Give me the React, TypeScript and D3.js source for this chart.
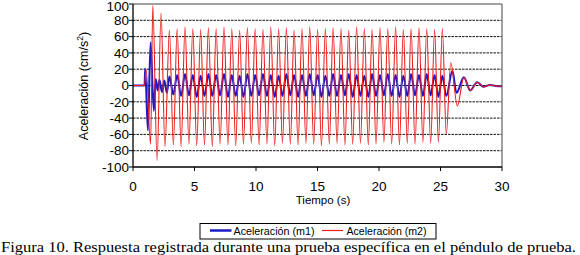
import React from "react";
import * as d3 from "d3";

// ---- data ----
const xTicks = [0, 5, 10, 15, 20, 25, 30];
const yTicks = [-100, -80, -60, -40, -20, 0, 20, 40, 60, 80, 100];
const gridValues = [-80, -60, -40, -20, 0, 20, 40, 60, 80];

// Aceleración (m2) – extrema of the red trace
const m2Times = [
  0, 0.94, 1.07, 1.43, 1.61, 1.96, 2.28, 2.6,
  2.96, 3.28, 3.59, 3.91, 4.23, 4.55, 4.86, 5.18, 5.5, 5.81, 6.13, 6.45,
  6.76, 7.08, 7.4, 7.72, 8.03, 8.35, 8.67, 8.98, 9.3, 9.62, 9.93, 10.25,
  10.57, 10.89, 11.2, 11.52, 11.84, 12.15, 12.47, 12.79, 13.1, 13.42,
  13.74, 14.06, 14.37, 14.69, 15.01, 15.32, 15.64, 15.96, 16.27, 16.59,
  16.91, 17.23, 17.54, 17.86, 18.18, 18.49, 18.81, 19.13, 19.44, 19.76,
  20.08, 20.4, 20.71, 21.03, 21.35, 21.66, 21.98, 22.3, 22.61, 22.93,
  23.25, 23.57, 23.88, 24.2, 24.52, 24.83, 25.15, 25.47,
  25.83, 26.37, 26.9, 27.42, 27.98, 28.5, 29.0, 29.5, 30,
];
const m2Values = [
  0, 0, 20, -72, 98, -92, 89, -75,
  68, -73, 70, -75, 72, -72, 70, -74, 69, -73, 71, -75,
  70, -72, 72, -73, 70, -74, 68, -72, 71, -71, 70, -73,
  69, -72, 72, -74, 70, -71, 71, -72, 68, -73,
  70, -71, 72, -72, 69, -74, 70, -72, 71, -71,
  70, -73, 68, -72, 72, -71, 70, -73, 69, -72,
  71, -70, 70, -72, 72, -73, 69, -71, 70, -72,
  71, -70, 70, -71, 69, -70, 70, -60,
  28, -25, 10, -6, 4, -1.5, 0.5, -0.5, -1,
];

// Aceleración (m1) – extrema of the blue trace
const m1Times = [
  0, 0.94, 0.99, 1.21, 1.43, 1.69, 1.85, 2.0, 2.15, 2.35, 2.55, 2.75,
  2.96, 3.28, 3.59, 3.91, 4.23, 4.55, 4.86, 5.18, 5.5, 5.81, 6.13, 6.45,
  6.76, 7.08, 7.4, 7.72, 8.03, 8.35, 8.67, 8.98, 9.3, 9.62, 9.93, 10.25,
  10.57, 10.89, 11.2, 11.52, 11.84, 12.15, 12.47, 12.79, 13.1, 13.42,
  13.74, 14.06, 14.37, 14.69, 15.01, 15.32, 15.64, 15.96, 16.27, 16.59,
  16.91, 17.23, 17.54, 17.86, 18.18, 18.49, 18.81, 19.13, 19.44, 19.76,
  20.08, 20.4, 20.71, 21.03, 21.35, 21.66, 21.98, 22.3, 22.61, 22.93,
  23.25, 23.57, 23.88, 24.2, 24.52, 24.83, 25.15, 25.47,
  25.97, 26.3, 26.9, 27.42, 27.98, 28.5, 29.0, 29.5, 30,
];
const m1Values = [
  0, 0, 21, -55, 53, -31, 8, -6, 7, -8, 6, -9,
  11, -11, 13, -13, 14, -12, 13, -14, 12, -13, 14, -13,
  13, -12, 14, -14, 13, -13, 12, -14, 14, -13, 13, -12,
  14, -13, 13, -14, 12, -13, 14, -12, 13, -14,
  13, -13, 14, -12, 13, -14, 12, -13, 14, -13,
  13, -12, 14, -14, 13, -13, 12, -14, 14, -13,
  13, -12, 14, -13, 13, -14, 12, -13, 14, -12,
  13, -13, 14, -12, 13, -14, 12, -13,
  18, -9, 10, -6, 4, -1.5, 0.5, -0.5, -1,
];

const legendLabels = ["Aceleración (m1)", "Aceleración (m2)"];
const caption =
  "Figura 10. Respuesta registrada durante una prueba específica en el péndulo de prueba.";

const BLUE = "#1a1ac8";
const RED = "#ee1c1c";
const SANS = "'Liberation Sans', Arial, sans-serif";
const SERIF = "'Liberation Serif', 'Times New Roman', serif";

export default function App() {
  const W = 580;
  const H = 255;
  const x = d3.scaleLinear().domain([0, 30]).range([133, 502]);
  const y = d3.scaleLinear().domain([-100, 100]).range([167, 4]);

  const line = d3
    .line<[number, number]>()
    .x((d) => x(d[0]))
    .y((d) => y(d[1]))
    .curve(d3.curveMonotoneX);

  const m1 = m1Times.map((t, i) => [t, m1Values[i]] as [number, number]);
  const m2 = m2Times.map((t, i) => [t, m2Values[i]] as [number, number]);

  const [x0, x1] = x.range();
  const [yb, yt] = y.range();

  return (
    <svg
      width={W}
      height={H}
      style={{ position: "absolute", left: 0, top: 0, background: "#fff" }}
    >
      <rect x={0} y={0} width={W} height={H} fill="#fff" />
      {/* grid */}
      {gridValues.map((v) => (
        <line
          key={"g" + v}
          x1={x0}
          x2={x1}
          y1={y(v)}
          y2={y(v)}
          stroke="#111"
          strokeWidth={1}
          strokeDasharray="2.5,1"
        />
      ))}
      {/* frame top/right */}
      <line x1={x0} x2={x1} y1={yt} y2={yt} stroke="#808080" strokeWidth={1.5} />
      <line x1={x1} x2={x1} y1={yt} y2={yb} stroke="#808080" strokeWidth={1.5} />

      {/* series */}
      <path d={line(m1) || ""} fill="none" stroke={BLUE} strokeWidth={2} />
      <path d={line(m2) || ""} fill="none" stroke={RED} strokeWidth={1.1} />

      {/* axes */}
      <line x1={x0} x2={x0} y1={yt} y2={yb} stroke="#000" strokeWidth={1.3} />
      <line x1={x0} x2={x1} y1={yb} y2={yb} stroke="#000" strokeWidth={1.3} />
      {yTicks.map((v) => (
        <g key={"yt" + v}>
          <line x1={x0 - 4} x2={x0} y1={y(v)} y2={y(v)} stroke="#000" strokeWidth={1} />
          <text
            x={x0 - 4}
            y={Math.max(y(v), 6.5)}
            dy="0.35em"
            textAnchor="end"
            fontFamily={SANS}
            fontSize={13.5}
            fill="#000"
          >
            {v}
          </text>
        </g>
      ))}
      {xTicks.map((v) => (
        <g key={"xt" + v}>
          <line x1={x(v)} x2={x(v)} y1={yb} y2={yb + 4} stroke="#000" strokeWidth={1} />
          <text
            x={x(v)}
            y={191}
            textAnchor="middle"
            fontFamily={SANS}
            fontSize={13.5}
            fill="#000"
          >
            {v}
          </text>
        </g>
      ))}
      {/* axis titles */}
      <text
        x={323}
        y={203.5}
        textAnchor="middle"
        fontFamily={SANS}
        fontSize={11.5}
        fill="#000"
      >
        Tiempo (s)
      </text>
      <text
        transform="translate(88,86) rotate(-90)"
        textAnchor="middle"
        fontFamily={SANS}
        fontSize={12.5}
        fill="#000"
      >
        Aceleración (cm/s
        <tspan fontSize={8.5} dy={-5}>
          2
        </tspan>
        <tspan dy={5}>)</tspan>
      </text>

      {/* legend */}
      <rect x={200} y={223.5} width={236} height={15.5} fill="#fff" stroke="#000" strokeWidth={1} />
      <line x1={210} x2={231.5} y1={230.5} y2={230.5} stroke={BLUE} strokeWidth={2.5} />
      <text x={233.5} y={234.5} fontFamily={SANS} fontSize={10} textLength={81} lengthAdjust="spacingAndGlyphs">
        {legendLabels[0]}
      </text>
      <line x1={322} x2={343} y1={230.5} y2={230.5} stroke={RED} strokeWidth={1.2} />
      <text x={346.5} y={234.5} fontFamily={SANS} fontSize={10} textLength={80} lengthAdjust="spacingAndGlyphs">
        {legendLabels[1]}
      </text>

      {/* caption */}
      <text
        x={1}
        y={251.5}
        fontFamily={SERIF}
        fontSize={15.5}
        fill="#000"
        textLength={575}
        lengthAdjust="spacingAndGlyphs"
      >
        {caption}
      </text>
    </svg>
  );
}
